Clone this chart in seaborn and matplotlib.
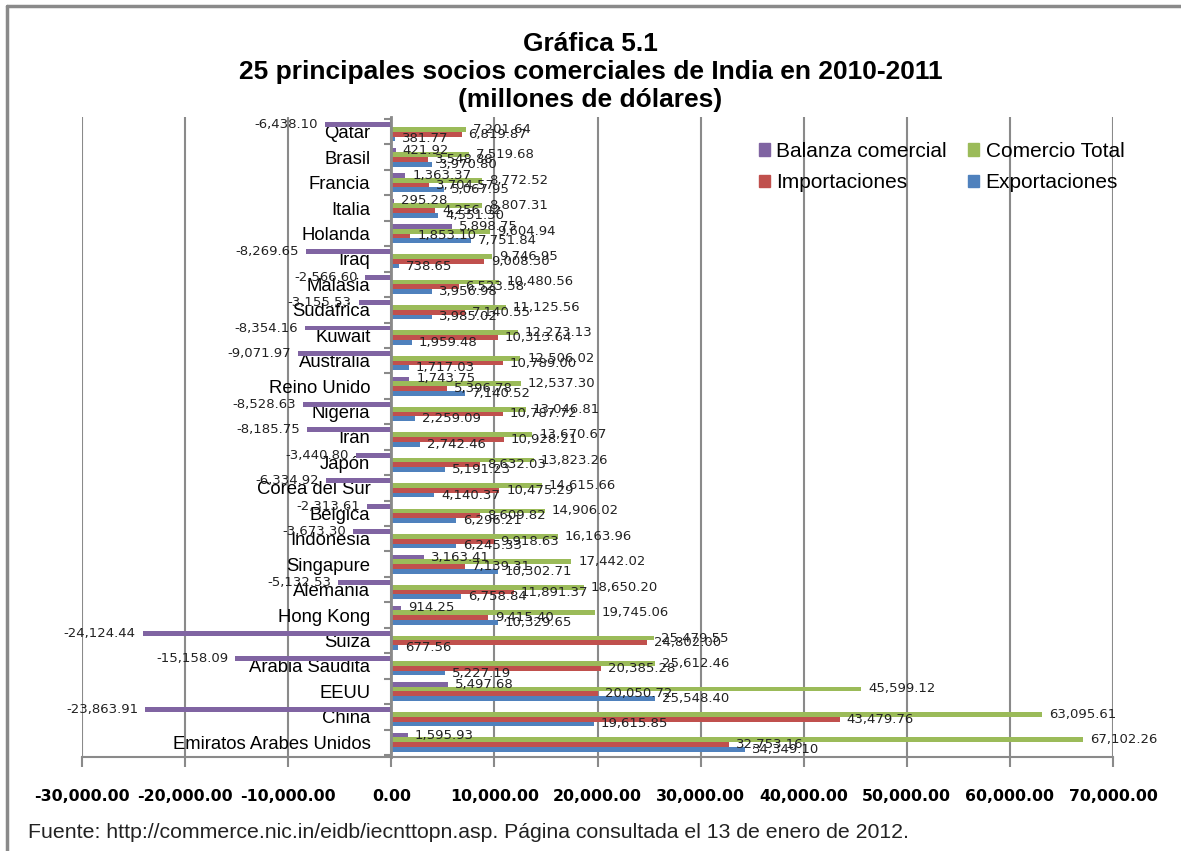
import matplotlib
matplotlib.use("Agg")
import matplotlib.pyplot as plt
from matplotlib.lines import Line2D
from matplotlib.patches import Patch
import numpy as np
import pandas as pd
import seaborn as sns

# datos (millones de dolares)
paises = ['Qatar', 'Brasil', 'Francia', 'Italia', 'Holanda', 'Iraq', 'Malasia',
          'Sudafrica', 'Kuwait', 'Australia', 'Reino Unido', 'Nigeria', 'Irán',
          'Japón', 'Corea del Sur', 'Belgica', 'Indonesia', 'Singapure', 'Alemania',
          'Hong Kong', 'Suiza', 'Arabia Saudita', 'EEUU', 'China',
          'Emiratos Arabes Unidos']
balanza = [-6438.10, 421.92, 1363.37, 295.28, 5898.75, -8269.65, -2566.60,
           -3155.53, -8354.16, -9071.97, 1743.75, -8528.63, -8185.75,
           -3440.80, -6334.92, -2313.61, -3673.30, 3163.41, -5132.53,
           914.25, -24124.44, -15158.09, 5497.68, -23863.91, 1595.93]
comercio_total = [7201.64, 7519.68, 8772.52, 8807.31, 9604.94, 9746.95, 10480.56,
                  11125.56, 12273.13, 12506.02, 12537.30, 13046.81, 13670.67,
                  13823.26, 14615.66, 14906.02, 16163.96, 17442.02, 18650.20,
                  19745.06, 25479.55, 25612.46, 45599.12, 63095.61, 67102.26]
importaciones = [6819.87, 3548.88, 3704.57, 4256.02, 1853.10, 9008.30, 6523.58,
                 7140.55, 10313.64, 10789.00, 5396.78, 10787.72, 10928.21,
                 8632.03, 10475.29, 8609.82, 9918.63, 7139.31, 11891.37,
                 9415.40, 24802.00, 20385.28, 20050.72, 43479.76, 32753.16]
exportaciones = [381.77, 3970.80, 5067.95, 4551.30, 7751.84, 738.65, 3956.98,
                 3985.02, 1959.48, 1717.03, 7140.52, 2259.09, 2742.46,
                 5191.23, 4140.37, 6296.21, 6245.33, 10302.71, 6758.84,
                 10329.65, 677.56, 5227.19, 25548.40, 19615.85, 34349.10]

series = ['Balanza comercial', 'Comercio Total', 'Importaciones', 'Exportaciones']
colores = ['#8064A2', '#9BBB59', '#C0504D', '#4F81BD']

df = pd.DataFrame({
    'pais': paises * 4,
    'serie': np.repeat(series, len(paises)),
    'valor': balanza + comercio_total + importaciones + exportaciones,
})

sns.set_style('white')
plt.rcParams['font.family'] = ['Liberation Sans', 'DejaVu Sans']
plt.rcParams['text.color'] = 'black'
plt.rcParams['xtick.color'] = 'black'
plt.rcParams['ytick.color'] = 'black'

fig = plt.figure(figsize=(11.81, 8.51), dpi=100)
ax = fig.add_axes([82 / 1181, 94 / 851, 1031 / 1181, 640 / 851])

sns.barplot(data=df, y='pais', x='valor', hue='serie', order=paises,
            hue_order=series, palette=colores, orient='h', width=0.75,
            saturation=1, ax=ax, legend=False, linewidth=0)

for c in ax.containers:
    ax.bar_label(c, fmt='{:,.2f}', padding=5, fontsize=9.5,
                 family='DejaVu Sans', color='#222222')

ax.set_xlim(-30000, 70000)
ax.set_ylim(len(paises) - 0.5 + 0.08, -0.5 - 0.08)
ax.set_xticks(np.arange(-30000, 70001, 10000))
ax.set_xticklabels(['{:,.2f}'.format(v) for v in np.arange(-30000, 70001, 10000)],
                   fontsize=11.3, fontweight='bold', family='DejaVu Sans')
ax.set_xlabel('')
ax.set_ylabel('')

ax.grid(axis='x', color='#8a8a8a', lw=1.5)
ax.grid(axis='y', visible=False)
ax.set_axisbelow(True)

ax.spines['top'].set_visible(False)
ax.spines['right'].set_visible(False)
ax.spines['left'].set_position(('data', 0))
ax.spines['left'].set_color('#8a8a8a')
ax.spines['left'].set_linewidth(2)
ax.spines['left'].set_zorder(5)
ax.spines['bottom'].set_color('#8a8a8a')
ax.spines['bottom'].set_linewidth(1.5)

ax.tick_params(axis='x', which='major', direction='out', length=7, width=1.5,
               color='#8a8a8a', labelcolor='black', pad=16, bottom=True)
ax.tick_params(axis='y', which='major', length=0, pad=15, labelsize=13.3,
               labelcolor='black', left=True)
ax.set_yticks(np.arange(-0.5, len(paises), 1), minor=True)
ax.tick_params(axis='y', which='minor', direction='out', length=5, width=1.5,
               color='#8a8a8a', left=True)

handles = [Patch(color=colores[0]), Patch(color=colores[2]),
           Patch(color=colores[1]), Patch(color=colores[3])]
labels = [series[0], series[2], series[1], series[3]]
fig.legend(handles, labels, ncol=2, frameon=False, fontsize=15,
           loc='upper left', bbox_to_anchor=(740 / 1181, 1 - 123 / 851),
           handlelength=0.55, handleheight=0.55, handletextpad=0.3,
           labelspacing=0.6, columnspacing=1.0)

fig.text(0.5, 1 - 32 / 851,
         'Gráfica 5.1\n25 principales socios comerciales de India en 2010-2011\n(millones de dólares)',
         ha='center', va='top', fontsize=19, fontweight='bold', linespacing=1.2,
         color='black')

fig.text(28 / 1181, 1 - 832 / 851,
         'Fuente: http://commerce.nic.in/eidb/iecnttopn.asp. Página consultada el 13 de enero de 2012.',
         ha='left', va='center', fontsize=15.3, color='#222222')

# borde del area del grafico
fig.add_artist(Line2D([7 / 1181, 7 / 1181], [0, 1 - 6 / 851], color='#8a8a8a', lw=2.5,
                      transform=fig.transFigure))
fig.add_artist(Line2D([7 / 1181, 1], [1 - 6 / 851, 1 - 6 / 851], color='#8a8a8a', lw=2.5,
                      transform=fig.transFigure))

fig.savefig('out.png', dpi=100)
